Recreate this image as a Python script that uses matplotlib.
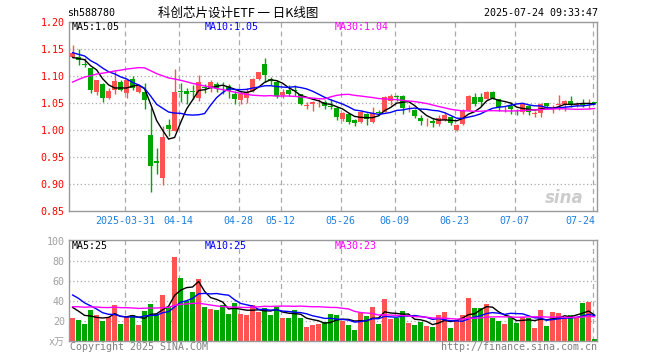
import numpy as np
import pandas as pd
import matplotlib
matplotlib.use("Agg")
import matplotlib.pyplot as plt

# ---------------- data ----------------
opens = [1.136, 1.136, 1.122, 1.114, 1.071, 1.086, 1.060, 1.074, 1.089, 1.069,
         1.095, 1.071, 1.071, 0.990, 0.942, 0.911, 1.010, 0.998, 1.072, 1.072,
         1.072, 1.060, 1.080, 1.078, 1.086, 1.083, 1.081, 1.066, 1.056, 1.060,
         1.072, 1.095, 1.122, 1.094, 1.089, 1.065, 1.075, 1.073, 1.066, 1.044,
         1.048, 1.051, 1.052, 1.044, 1.041, 1.021, 1.029, 1.018, 1.014, 1.030,
         1.0145, 1.034, 1.034, 1.054, 1.062, 1.063, 1.0365, 1.037, 1.022, 1.014,
         1.016, 1.011, 1.019, 1.024, 1.0005, 1.0115, 1.0376, 1.061, 1.061, 1.058,
         1.071, 1.057, 1.038, 1.044, 1.034, 1.033, 1.044, 1.030, 1.031, 1.050,
         1.041, 1.046, 1.049, 1.054, 1.047, 1.048, 1.048, 1.051]
highs = [1.157, 1.150, 1.134, 1.115, 1.093, 1.087, 1.078, 1.112, 1.093, 1.094,
         1.100, 1.084, 1.087, 1.040, 0.967, 1.007, 1.021, 1.113, 1.087, 1.078,
         1.084, 1.102, 1.086, 1.092, 1.089, 1.089, 1.086, 1.072, 1.072, 1.078,
         1.097, 1.108, 1.134, 1.098, 1.092, 1.076, 1.083, 1.083, 1.067, 1.051,
         1.054, 1.057, 1.056, 1.057, 1.042, 1.033, 1.031, 1.020, 1.035, 1.031,
         1.042, 1.037, 1.063, 1.066, 1.065, 1.064, 1.046, 1.039, 1.027, 1.022,
         1.022, 1.0285, 1.033, 1.025, 1.012, 1.039, 1.064, 1.069, 1.069, 1.072,
         1.072, 1.058, 1.045, 1.052, 1.038, 1.048, 1.046, 1.036, 1.050, 1.050,
         1.046, 1.065, 1.055, 1.063, 1.052, 1.057, 1.057, 1.052]
lows = [1.134, 1.121, 1.116, 1.069, 1.064, 1.052, 1.057, 1.066, 1.072, 1.059,
        1.075, 1.069, 1.039, 0.885, 0.919, 0.899, 0.989, 0.998, 1.052, 1.049,
        1.057, 1.054, 1.069, 1.071, 1.071, 1.066, 1.060, 1.048, 1.048, 1.050,
        1.071, 1.092, 1.089, 1.084, 1.060, 1.059, 1.063, 1.063, 1.047, 1.039,
        1.036, 1.043, 1.039, 1.039, 1.018, 1.016, 1.012, 1.007, 1.013, 1.010,
        1.013, 1.028, 1.033, 1.047, 1.054, 1.030, 1.033, 1.022, 1.010, 1.008,
        1.005, 1.007, 1.017, 1.010, 0.999, 1.0097, 1.0346, 1.044, 1.044, 1.057,
        1.057, 1.036, 1.033, 1.030, 1.027, 1.030, 1.027, 1.024, 1.024, 1.039,
        1.031, 1.037, 1.036, 1.042, 1.042, 1.042, 1.039, 1.048]
closes = [1.142, 1.129, 1.120, 1.074, 1.092, 1.060, 1.072, 1.091, 1.074, 1.092,
          1.077, 1.083, 1.056, 0.933, 0.939, 0.987, 1.001, 1.071, 1.070, 1.066,
          1.070, 1.089, 1.078, 1.089, 1.078, 1.081, 1.072, 1.058, 1.066, 1.071,
          1.095, 1.107, 1.102, 1.090, 1.063, 1.071, 1.066, 1.072, 1.049, 1.046,
          1.052, 1.052, 1.045, 1.043, 1.024, 1.031, 1.015, 1.013, 1.034, 1.021,
          1.0315, 1.032, 1.061, 1.063, 1.061, 1.040, 1.0375, 1.025, 1.016, 1.0155,
          1.013, 1.022, 1.027, 1.013, 1.010, 1.0346, 1.063, 1.049, 1.052, 1.071,
          1.060, 1.042, 1.039, 1.038, 1.033, 1.048, 1.034, 1.031, 1.049, 1.044,
          1.042, 1.049, 1.054, 1.048, 1.048, 1.047, 1.049, 1.050]
volumes = [23, 21, 17, 31, 26, 20, 24, 36, 17, 24,
           26, 16, 30, 37, 27, 46, 34, 84, 63, 40,
           49, 62, 34, 32, 31, 36, 27, 38, 27, 26,
           36, 29, 33, 26, 34, 23, 23, 31, 23, 14,
           16, 17, 19, 27, 26, 20, 16, 11, 28, 25,
           34, 17, 42, 22, 23, 30, 18, 16, 19, 15,
           14, 26, 29, 13, 21, 26, 43, 33, 33, 37,
           23, 20, 17, 24, 18, 24, 23, 13, 31, 15,
           29, 28, 23, 26, 24, 38, 39, 2]

# days before the window, estimated so that the MA lines start where they do
lead_closes = [0.98, 0.99, 1.00, 1.00, 1.01, 1.02, 1.02, 1.03, 1.03, 1.04,
               1.04, 1.07, 1.09, 1.10, 1.11, 1.12, 1.13, 1.14, 1.15, 1.16,
               1.16, 1.15, 1.16, 1.15, 1.14, 1.14, 1.13, 1.13, 1.13]
lead_volumes = [25, 30, 22, 28, 35, 26, 24, 31, 27, 33,
                29, 25, 30, 28, 32, 27, 26, 30, 29, 33,
                55, 62, 60, 58, 57, 40, 38, 34, 33]

date_labels = ["2025-03-31", "04-14", "04-28", "05-12", "05-26",
               "06-09", "06-23", "07-07", "07-24"]
date_index = [9, 18, 28, 35, 45, 54, 64, 74, 87]

price_ticks = [0.85, 0.90, 0.95, 1.00, 1.05, 1.10, 1.15, 1.20]
vol_ticks = [0, 20, 40, 60, 80, 100]
vol_tick_labels = ["x万", "20", "40", "60", "80", "100"]

price_ma_text = ["MA5:1.05", "MA10:1.05", "MA30:1.04"]
vol_ma_text = ["MA5:25", "MA10:25", "MA30:23"]
ma_windows = [5, 10, 30]

# ---------------- styling ----------------
RED = "#FF5252"
GREEN = "#00A600"
MA_COLORS = ["#000000", "#0000FF", "#FF00FF"]
GRID = "#AAAAAA"
FRAME = "#999999"
MONO = ["DejaVu Sans Mono", "Noto Sans CJK SC"]
FS = 7.2

W, H = 660, 360
fig = plt.figure(figsize=(W / 100, H / 100), dpi=100)
fig.patch.set_facecolor("white")


def px_axes(l, t, r, b):
    return fig.add_axes([l / W, 1 - b / H, (r - l) / W, (b - t) / H])


def ftext(x, y, s, **kw):
    kw.setdefault("family", MONO)
    kw.setdefault("fontsize", FS)
    kw.setdefault("va", "center")
    fig.text(x / W, 1 - y / H, s, **kw)


o = np.array(opens)
h = np.array(highs)
lo = np.array(lows)
c = np.array(closes)
v = np.array(volumes, dtype=float)
n = len(c)
x = np.arange(n)
up = c >= o
cols = [RED if u else GREEN for u in up]

all_c = pd.Series(list(lead_closes) + list(closes))
all_v = pd.Series(list(lead_volumes) + list(volumes), dtype=float)
L = len(lead_closes)
price_ma = [all_c.rolling(w).mean().values[L:] for w in ma_windows]
vol_ma = [all_v.rolling(w).mean().values[L:] for w in ma_windows]

xmin, xmax = -0.6, n - 0.6
grid_x = [i - 0.3 for i in date_index]

# ---------------- price panel ----------------
ax1 = px_axes(69, 22, 597, 211)
ax1.set_xlim(xmin, xmax)
ax1.set_ylim(0.85, 1.20)
for yv in price_ticks[1:-1]:
    ax1.axhline(yv, color=GRID, lw=0.9, ls=(0, (1, 2)), zorder=0)
for gx in grid_x:
    ax1.axvline(gx, color=GRID, lw=0.9, ls=(0, (4, 3)), zorder=0)

ax1.vlines(x, lo, h, colors=cols, lw=1.0, zorder=2)
body = np.maximum(np.abs(c - o), 0.0012)
ax1.bar(x, body, bottom=np.minimum(o, c), width=0.8, color=cols,
        edgecolor=cols, lw=0, zorder=3)
for m, col in zip(price_ma, MA_COLORS):
    ax1.plot(x, m, color=col, lw=1.0, zorder=4)

ax1.set_yticks(price_ticks)
ax1.set_yticklabels(["%.2f" % t for t in price_ticks])
ax1.tick_params(axis="y", length=0, pad=3, labelsize=FS, labelcolor="#FF0000")
for lab in ax1.get_yticklabels():
    lab.set_family(MONO)
ax1.set_xticks([])
for sp in ax1.spines.values():
    sp.set_color(FRAME)
    sp.set_linewidth(1.0)

tr = ax1.get_xaxis_transform()
for i, (gx, lab) in enumerate(zip(grid_x, date_labels)):
    if i == len(date_labels) - 1:
        ax1.text(xmax - 0.3, -0.055, lab, transform=tr, ha="right", va="center",
                 color="#1E80E0", fontsize=FS, family=MONO)
    else:
        ax1.text(gx, -0.055, lab, transform=tr, ha="center", va="center",
                 color="#1E80E0", fontsize=FS, family=MONO)

# watermark
ax1.text(0.975, 0.07, "sina", transform=ax1.transAxes, ha="right", va="center",
         fontsize=12, style="italic", weight="bold", color="#cccccc",
         family="DejaVu Sans", zorder=1)

# ---------------- volume panel ----------------
ax2 = px_axes(69, 240, 597, 341)
ax2.set_xlim(xmin, xmax)
ax2.set_ylim(0, 101)
for yv in vol_ticks[1:-1]:
    ax2.axhline(yv, color=GRID, lw=0.9, ls=(0, (1, 2)), zorder=0)
for gx in grid_x:
    ax2.axvline(gx, color=GRID, lw=0.9, ls=(0, (4, 3)), zorder=0)
ax2.bar(x, v, width=0.9, color=cols, lw=0, zorder=2)
for m, col in zip(vol_ma, MA_COLORS):
    ax2.plot(x, m, color=col, lw=1.0, zorder=4)
ax2.set_yticks(vol_ticks)
ax2.set_yticklabels(vol_tick_labels)
ax2.tick_params(axis="y", length=0, pad=3, labelsize=FS, labelcolor="#A0A0A0")
for lab in ax2.get_yticklabels():
    lab.set_family(MONO)
ax2.set_xticks([])
for sp in ax2.spines.values():
    sp.set_color(FRAME)
    sp.set_linewidth(1.0)

# ---------------- texts ----------------
ftext(67, 13, "sh588780", ha="left", color="#000000")
ftext(238, 13, "科创芯片设计ETF 一 日K线图", ha="center", color="#000000",
      family=["Noto Sans CJK SC", "DejaVu Sans"], fontsize=9)
ftext(598, 13, "2025-07-24 09:33:47", ha="right", color="#000000")

for xp, s, col in zip([72, 205, 335], price_ma_text, MA_COLORS):
    ftext(xp, 27, s, ha="left", color=col)
for xp, s, col in zip([72, 205, 335], vol_ma_text, MA_COLORS):
    ftext(xp, 246, s, ha="left", color=col)

ftext(70, 347, "Copyright 2025 SINA.COM", ha="left", color="#808080")
ftext(597, 347, "http://finance.sina.com.cn", ha="right", color="#808080")

fig.savefig("out.png", dpi=100, facecolor="white")
